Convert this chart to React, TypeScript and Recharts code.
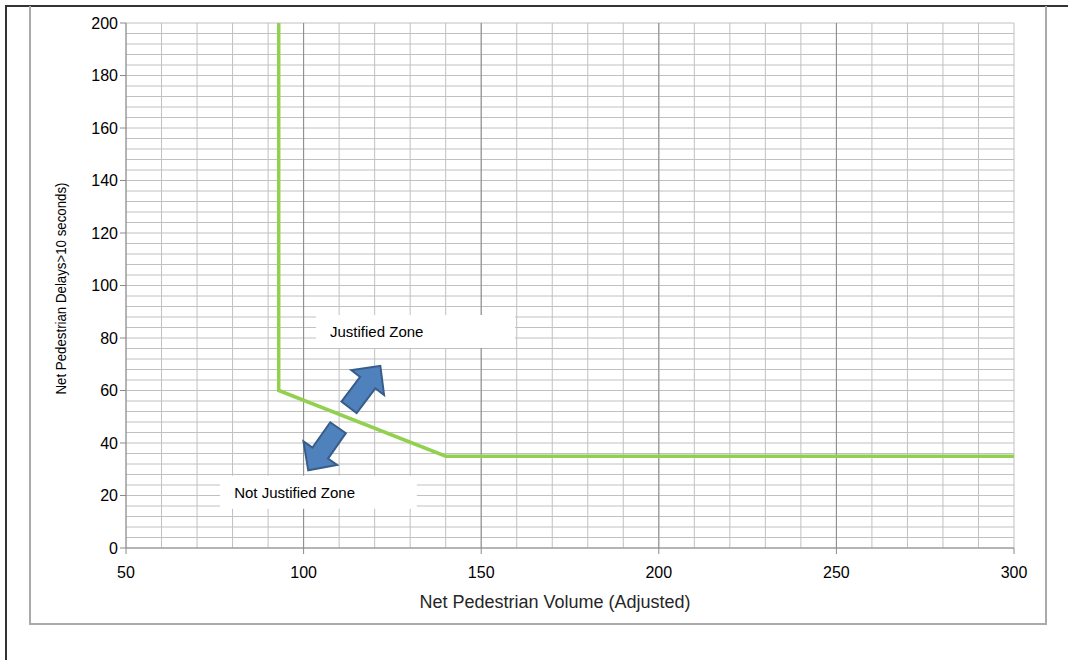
import React from "react";
import { CartesianGrid, Line, LineChart, ReferenceArea, ReferenceDot, XAxis, YAxis } from "recharts";

// threshold curve (volume vs. delay)
const volume = [93, 93, 140, 300];
const delay = [200, 60, 35, 35];

const xTicks = [50, 100, 150, 200, 250, 300];
const yTicks = [0, 20, 40, 60, 80, 100, 120, 140, 160, 180, 200];
const minorX = [50, 60, 70, 80, 90, 100, 110, 120, 130, 140, 150, 160, 170, 180, 190, 200, 210, 220, 230, 240, 250, 260, 270, 280, 290, 300];
const majorX = [100, 150, 200, 250];
const minorY = [
  0, 4, 8, 12, 16, 20, 24, 28, 32, 36, 40, 44, 48, 52, 56, 60, 64, 68, 72, 76, 80, 84, 88, 92, 96, 100,
  104, 108, 112, 116, 120, 124, 128, 132, 136, 140, 144, 148, 152, 156, 160, 164, 168, 172, 176, 180, 184, 188, 192, 196, 200,
];

const zoneLabels = ["Justified Zone", "Not Justified Zone"];
const zoneX = [[103.5, 159.5], [76.5, 131.9]];
const zoneY = [[76.2, 88.8], [15, 27.5]];

const arrowX = [117.2, 105.5];
const arrowY = [61.5, 37.7];
const arrowAngle = [-53, 125];

const data = volume.map((v, i) => ({ volume: v, delay: delay[i] }));

const FONT = "'Liberation Sans', Arial, sans-serif";

const Arrow = (angle: number) => (props: any) => {
  const { cx, cy } = props;
  const pts = "-26,-9.5 5,-9.5 5,-20.5 26,0 5,20.5 5,9.5 -26,9.5";
  return (
    <polygon
      points={pts}
      transform={`translate(${cx},${cy}) rotate(${angle})`}
      fill="#4F81BD"
      stroke="#385D8A"
      strokeWidth={2}
      strokeLinejoin="miter"
    />
  );
};

export default function App() {
  return (
    <div style={{ position: "absolute", left: 0, top: 0, width: 1068, height: 660, background: "#fff" }}>
      {/* page frame */}
      <div style={{ position: "absolute", left: 5, top: 5, width: 1063, height: 2, background: "#333" }} />
      <div style={{ position: "absolute", left: 5, top: 5, width: 2, height: 655, background: "#333" }} />
      <div style={{ position: "absolute", left: 29, top: 6, width: 1014, height: 617, border: "2px solid #aaa", borderTop: "none" }} />
      <div style={{ position: "absolute", left: 0, top: 0 }}>
        <LineChart width={1068} height={660} data={data} margin={{ top: 23, right: 54, bottom: 52, left: 66 }}>
          <CartesianGrid stroke="#c0c0c0" strokeWidth={1} verticalValues={minorX} horizontalValues={minorY} />
          <CartesianGrid stroke="#8a8a8a" strokeWidth={1} horizontal={false} verticalValues={majorX} />
          <XAxis
            dataKey="volume"
            type="number"
            domain={[50, 300]}
            ticks={xTicks}
            interval={0}
            tickSize={6}
            tickMargin={13}
            stroke="#8a8a8a"
            tick={{ fill: "#000", fontSize: 16, fontFamily: FONT }}
            height={60}
            label={{
              content: ({ viewBox }: any) => (
                <text x={viewBox.x + viewBox.width / 2 - 15} y={608} textAnchor="middle" fill="#262626" fontSize={18} fontFamily={FONT}>
                  Net Pedestrian Volume (Adjusted)
                </text>
              ),
            }}
          />
          <YAxis
            type="number"
            domain={[0, 200]}
            ticks={yTicks}
            interval={0}
            tickSize={6}
            tickMargin={2}
            width={60}
            stroke="#8a8a8a"
            tick={{ fill: "#000", fontSize: 16, fontFamily: FONT }}
            label={{
              content: ({ viewBox }: any) => {
                const x = 66;
                const y = viewBox.y + viewBox.height / 2 + 3;
                return (
                  <text
                    x={x}
                    y={y}
                    transform={`rotate(-90 ${x} ${y})`}
                    textAnchor="middle"
                    fill="#000"
                    fontSize={15}
                    textLength={212}
                    lengthAdjust="spacingAndGlyphs"
                    fontFamily={FONT}
                  >
                    Net Pedestrian Delays&gt;10 seconds)
                  </text>
                );
              },
            }}
          />
          <Line
            type="linear"
            dataKey="delay"
            stroke="#92D050"
            strokeWidth={3.5}
            dot={false}
            activeDot={false}
            isAnimationActive={false}
          />
          {zoneLabels.map((z, i) => (
            <ReferenceArea
              key={z}
              x1={zoneX[i][0]}
              x2={zoneX[i][1]}
              y1={zoneY[i][0]}
              y2={zoneY[i][1]}
              fill="#fff"
              fillOpacity={1}
              stroke="none"
              label={{ value: z, position: "insideLeft", offset: 14, fill: "#000", fontSize: 15, fontFamily: FONT }}
            />
          ))}
          {arrowX.map((x, i) => (
            <ReferenceDot key={i} x={x} y={arrowY[i]} r={1} shape={Arrow(arrowAngle[i])} />
          ))}
        </LineChart>
      </div>
    </div>
  );
}
